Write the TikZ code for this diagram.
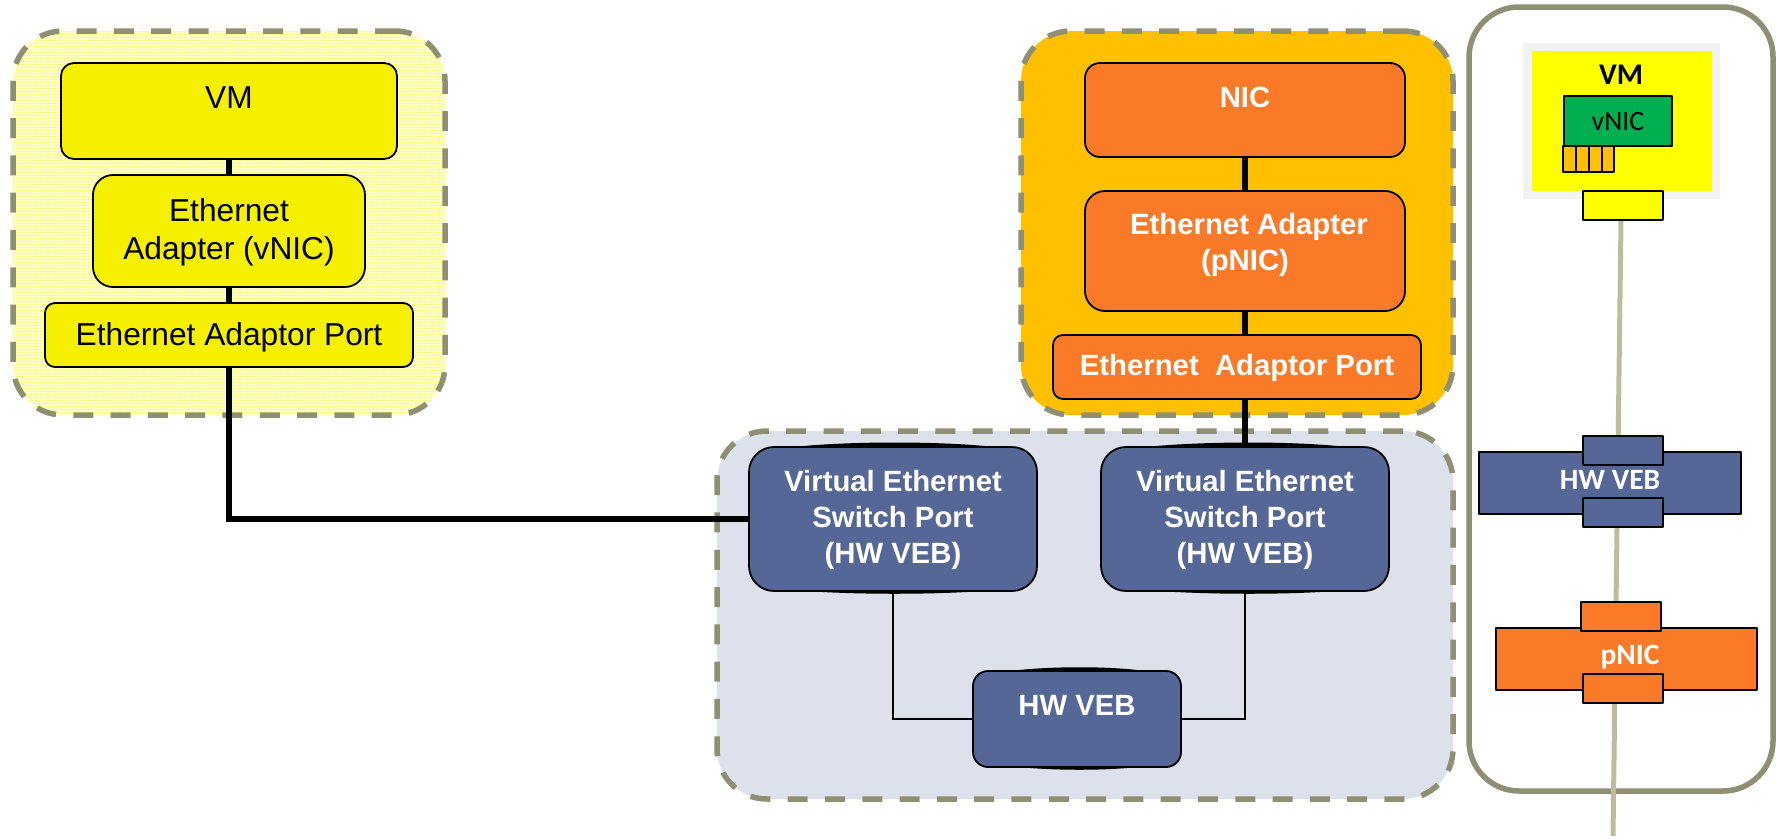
\documentclass[tikz,border=0pt]{standalone}
\usepackage{fontspec}
\setmainfont{Liberation Sans}
\newfontfamily\carl{Carlito}
\definecolor{dashc}{HTML}{8F8F73}
\definecolor{railc}{HTML}{BDBD9B}
\definecolor{vmy}{HTML}{F5F000}
\definecolor{paley}{HTML}{FFFFE0}
\definecolor{meshy}{HTML}{FFFF90}
\definecolor{amber}{HTML}{FFC000}
\definecolor{orng}{HTML}{FB7A28}
\definecolor{blu}{HTML}{556796}
\definecolor{palebl}{HTML}{DDE1EC}
\definecolor{grn}{HTML}{00B050}
\definecolor{lgray}{HTML}{F2F2F2}
\definecolor{ylw}{HTML}{FFFF00}
\pgfdeclarelayer{grp}
\pgfdeclarelayer{conn}
\pgfsetlayers{grp,conn,main}
\newcommand{\bx}[6]{%
  \pgfmathsetmacro{\cxx}{(#3+#5)/2}\pgfmathsetmacro{\cyy}{(#4+#6)/2}%
  \pgfmathsetmacro{\www}{#5-#3}\pgfmathsetmacro{\hhh}{#6-#4}%
  \node[#1,minimum width=\www pt,minimum height=\hhh pt] (#2) at (\cxx,\cyy) {};}
\tikzset{
  x=1pt,y=-1pt,
  every node/.style={inner sep=0pt,outer sep=0pt},
  base/.style={rectangle,line join=round},
  group/.style={base,draw=dashc,line width=5.5pt,dash pattern=on 20pt off 17.3pt,rounded corners=50pt},
  panel/.style={base,draw=dashc,line width=5.5pt,rounded corners=50pt},
  rbox/.style={base,draw=black,line width=1.8pt},
  yb/.style={rbox,fill=vmy},
  ob/.style={rbox,fill=orng},
  bb/.style={rbox,fill=blu},
  sq/.style={base,draw=black,line width=1.5pt},
  thick conn/.style={draw=black,line width=6pt},
  thin conn/.style={draw=black,line width=2pt},
  lens/.style={fill=black,draw=none},
  mesh/.style={path picture={\draw[meshy,line width=1pt,solid,step=3pt] (path picture bounding box.south west) grid (path picture bounding box.north east);}},
  ytxt/.style={text=black,font=\fontsize{31.7}{38.5}\selectfont,align=center},
  wtxt/.style={text=white,font=\fontsize{29.3}{36.2}\selectfont\bfseries,align=center},
  ctxt/.style={font=\fontsize{28}{32}\selectfont\carl},
  cwtxt/.style={text=white,font=\fontsize{29.5}{34}\selectfont\carl\bfseries},
}
\begin{document}
\begin{tikzpicture}
\useasboundingbox (0,0) rectangle (1776,838);
% right panel
\bx{panel}{rpanel}{1469}{7}{1773}{791}
% groups
\begin{pgfonlayer}{grp}
\bx{group,fill=paley,mesh}{gy}{13}{31}{445}{415}
\bx{group,fill=amber}{go}{1021}{31}{1453}{415}
\bx{group,fill=palebl}{gb}{717}{431}{1453}{799}
\end{pgfonlayer}
% yellow stack
\bx{yb,rounded corners=13pt}{vm}{61}{63}{397}{159}
\bx{yb,rounded corners=20pt}{yad}{93}{175}{365}{287}
\bx{yb,rounded corners=10pt}{ypo}{45}{303}{413}{367}
\node[ytxt] (tvm) at (229,98) {VM};
\node[ytxt] (tyad) at (229,232.5) {Ethernet\\Adapter (vNIC)};
\node[ytxt] (typo) at (229,337) {Ethernet Adaptor Port};
% orange stack
\bx{ob,rounded corners=15pt}{nic}{1085}{63}{1405}{157}
\bx{ob,rounded corners=20pt}{oad}{1085}{191}{1405}{311}
\bx{ob,rounded corners=10pt}{opo}{1053}{335}{1421}{399}
\node[wtxt] (tnic) at (1245,97) {NIC};
\node[wtxt] (toa) at (1249,227) {Ethernet Adapter};
\node[wtxt] (tob) at (1245,263) {(pNIC)};
\node[wtxt] (topo) at (1237,368) {Ethernet\ \ Adaptor Port};
% blue
\begin{pgfonlayer}{conn}
\fill[lens] (793,447) .. controls (850,441) and (940,441) .. (995,447) -- cycle;
\fill[lens] (793,590) .. controls (850,595) and (940,595) .. (995,590) -- cycle;
\fill[lens] (1145,447) .. controls (1205,441) and (1295,441) .. (1347,447) -- cycle;
\fill[lens] (1145,590) .. controls (1205,595) and (1295,595) .. (1347,590) -- cycle;
\fill[lens] (1010,671) .. controls (1050,666) and (1110,666) .. (1145,671) -- cycle;
\fill[lens] (1010,766) .. controls (1050,771) and (1110,771) .. (1145,766) -- cycle;
\end{pgfonlayer}
\bx{bb,rounded corners=25pt}{vs1}{749}{447}{1037}{591}
\bx{bb,rounded corners=25pt}{vs2}{1101}{447}{1389}{591}
\bx{bb,rounded corners=15pt}{veb}{973}{671}{1181}{767}
\node[wtxt] (tvs1) at (893,520) {Virtual Ethernet\\Switch Port\\(HW VEB)};
\node[wtxt] (tvs2) at (1245,520) {Virtual Ethernet\\Switch Port\\(HW VEB)};
\node[wtxt] (tveb) at (1077,705) {HW VEB};
% connectors
\begin{pgfonlayer}{conn}
\draw[thick conn] (vm.south) -- (yad.north);
\draw[thick conn] (yad.south) -- (ypo.north);
\draw[thick conn,line join=miter] (ypo.south) |- (vs1.west);
\draw[thick conn] (nic.south) -- (oad.north);
\draw[thick conn] (oad.south) -- (oad.south |- opo.north);
\draw[thick conn] (vs2.north) -- (vs2.north |- opo.south);
\draw[thin conn] (vs1.south) |- (veb.west);
\draw[thin conn] (vs2.south) |- (veb.east);
\end{pgfonlayer}
% right column
\coordinate (railtop) at (1621,220);
\coordinate (railend) at (1613,836);
\draw[railc,line width=5pt] (railtop) -- (railend);
\bx{base,fill=lgray}{vmout}{1523}{43}{1720}{199}
\bx{base,fill=ylw}{vmin}{1532}{51}{1712}{191}
\node[cwtxt,text=black,font=\fontsize{30}{34}\selectfont\carl\bfseries] (tvm2) at (1621,75) {VM};
\bx{sq,fill=grn}{vnic}{1564}{96}{1672}{146}
\node[ctxt] (tvnic) at (1618,122) {vNIC};
\bx{sq,fill=amber}{c1}{1563}{146}{1576}{172}
\bx{sq,fill=amber}{c2}{1576}{146}{1589}{172}
\bx{sq,fill=amber}{c3}{1589}{146}{1602}{172}
\bx{sq,fill=amber}{c4}{1602}{146}{1614}{172}
\bx{sq,fill=ylw}{rp}{1583}{191}{1663}{220}
\bx{sq,fill=blu}{rveb}{1479}{452}{1741}{514}
\bx{sq,fill=blu}{rvt}{1583}{436}{1663}{465}
\bx{sq,fill=blu}{rvb}{1583}{498}{1663}{527}
\node[cwtxt] (trv) at (1610,480) {HW VEB};
\bx{sq,fill=orng}{rnic}{1496}{628}{1757}{690}
\bx{sq,fill=orng}{rnt}{1581}{602}{1661}{631}
\bx{sq,fill=orng}{rnb}{1583}{674}{1663}{703}
\node[cwtxt] (trn) at (1630,657) {pNIC};
\end{tikzpicture}
\end{document}
